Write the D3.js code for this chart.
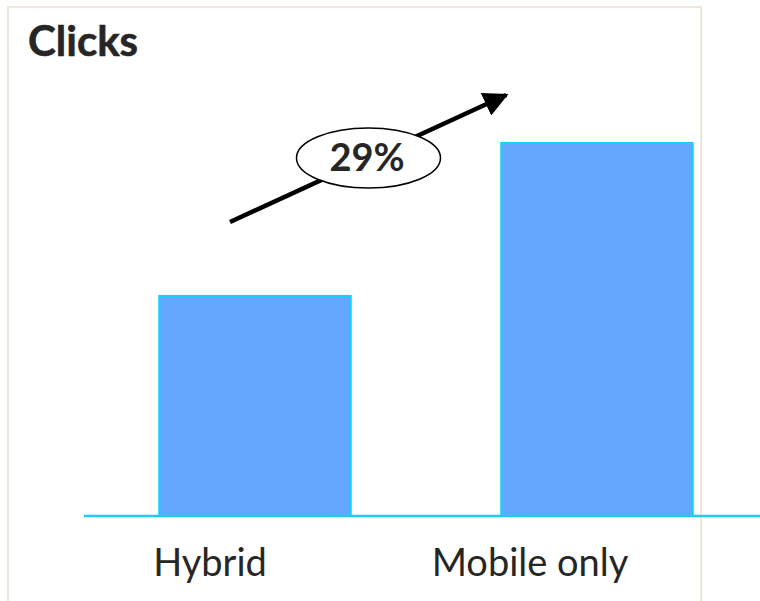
<!DOCTYPE html>
<html><head><meta charset="utf-8">
<script src="https://cdn.jsdelivr.net/npm/d3@7"></script>
<style>html,body{margin:0;padding:0;background:#fff;}svg{display:block;}</style>
</head><body>
<script>
const title = "Clicks";
const categories = ["Hybrid", "Mobile only"];
const values = [59, 100];
const changeLabel = "29%";

const W = 760, H = 601;
const svg = d3.select("body").append("svg").attr("width", W).attr("height", H);

// frame
svg.append("rect").attr("x", 8).attr("y", 7).attr("width", 693).attr("height", 620)
  .attr("fill", "#fff").attr("stroke", "#ece8de").attr("stroke-width", 2);

const x = d3.scaleBand().domain(categories).range([84, 768]).paddingInner(0.44).paddingOuter(0.22);
const xl = d3.scaleBand().domain(categories).range([50, 690]);
const y = d3.scaleLinear().domain([0, 100]).range([516, 143]);

svg.append("text").attr("x", 28).attr("y", 56).text(title)
  .attr("font-family", "Lato, 'Open Sans', sans-serif").attr("font-weight", "bold")
  .attr("font-size", 42).attr("fill", "#262626").attr("stroke", "#262626").attr("stroke-width", 0.6);

svg.selectAll("rect.bar").data(values).join("rect").attr("class", "bar")
  .attr("x", (d, i) => x(categories[i]))
  .attr("y", d => y(d))
  .attr("width", x.bandwidth())
  .attr("height", d => y(0) - y(d))
  .attr("fill", "#63a8fe").attr("stroke", "#12d2ff").attr("stroke-width", 2);

svg.append("line").attr("x1", 84).attr("x2", 760).attr("y1", y(0)).attr("y2", y(0))
  .attr("stroke", "#1ecbf8").attr("stroke-width", 2.5);

svg.selectAll("text.cat").data(categories).join("text").attr("class", "cat")
  .attr("x", d => xl(d) + xl.bandwidth() / 2).attr("y", 576)
  .attr("text-anchor", "middle").text(d => d)
  .attr("font-family", "Lato, 'Open Sans', sans-serif").attr("font-size", 38).attr("fill", "#262626");

// arrow annotation
const defs = svg.append("defs");
defs.append("marker").attr("id", "ah").attr("viewBox", "0 0 10 10").attr("refX", 9).attr("refY", 5)
  .attr("markerWidth", 5.5).attr("markerHeight", 5.5).attr("markerUnits", "strokeWidth").attr("orient", "auto")
  .append("path").attr("d", "M0,0 L10,5 L0,10 Z").attr("fill", "#000");

const x0 = x(categories[0]) + x.bandwidth() / 2 - 25, y0 = y(values[0]) - 74;
const x1 = x(categories[1]) + 5, y1 = y(values[1]) - 48;
svg.append("line").attr("x1", x0).attr("y1", y0).attr("x2", x1).attr("y2", y1)
  .attr("stroke", "#000").attr("stroke-width", 4.5).attr("marker-end", "url(#ah)");

svg.append("ellipse").attr("cx", 368.5).attr("cy", 158).attr("rx", 72).attr("ry", 30)
  .attr("fill", "#fff").attr("stroke", "#000").attr("stroke-width", 1.5);
svg.append("text").attr("x", 367).attr("y", 171).attr("text-anchor", "middle").text(changeLabel)
  .attr("font-family", "Lato, 'Open Sans', sans-serif").attr("font-weight", "bold")
  .attr("font-size", 38).attr("fill", "#262626");
</script>
</body></html>
